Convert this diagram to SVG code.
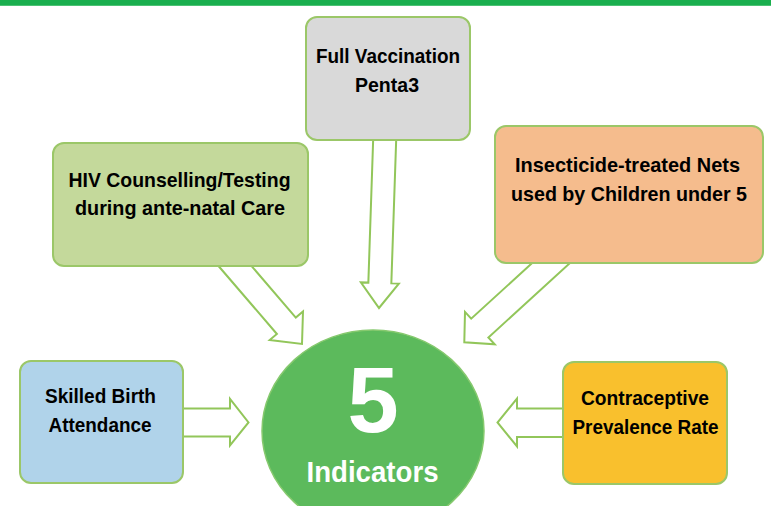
<svg xmlns="http://www.w3.org/2000/svg" width="771" height="506" viewBox="0 0 771 506">
  <style>
    .box { stroke: #9BC768; stroke-width: 2; }
    .arrow { fill: #FFFFFF; stroke: #92C65A; stroke-width: 2; stroke-linejoin: miter; }
    .lbl { font-family: "Liberation Sans", Arial, sans-serif; font-weight: bold; font-size: 21px; fill: #000000; text-anchor: middle; }
    .big { font-family: "Liberation Sans", Arial, sans-serif; font-weight: bold; fill: #FFFFFF; text-anchor: middle; }
  </style>
  <rect x="0" y="0" width="771" height="506" fill="#FFFFFF"/>
  <rect x="0" y="0" width="771" height="5.5" fill="#1AAF4E"/>
  <rect x="0" y="5" width="771" height="1" fill="#4CC274"/>

  <g id="connectors">
    <polygon class="arrow" points="373.5,129.6 368.35,282.6 360.85,282.4 379,308 398.83,283.6 391.33,283.4 396.5,130.4"/>
    <polygon class="arrow" points="212.5,259 276.9,334 269.7,340.1 302,344 303,311.5 295.8,317.6 231.5,242.6"/>
    <polygon class="arrow" points="557.2,240.1 471.2,318.7 465,311.9 464.3,342.3 494.7,344.3 488.4,337.5 574.4,258.9"/>
    <polygon class="arrow" points="175,408.5 230,408.5 230,399 248.5,422.5 230,445.5 230,436.5 175,436.5"/>
    <polygon class="arrow" points="571,408.5 517,408.5 517,398.5 497.5,422.5 517,446.5 517,437 571,437"/>
  </g>

  <g id="node-penta3">
    <rect class="box" x="306" y="17" width="164" height="123" rx="11" fill="#D9D9D9"/>
    <text class="lbl" x="388" y="62.5" textLength="144" lengthAdjust="spacingAndGlyphs">Full Vaccination</text>
    <text class="lbl" x="387" y="91.5" textLength="64" lengthAdjust="spacingAndGlyphs">Penta3</text>
  </g>

  <g id="node-hiv">
    <rect class="box" x="53" y="143" width="255" height="123" rx="11" fill="#C4D99B"/>
    <text class="lbl" x="179.5" y="186.5" textLength="222" lengthAdjust="spacingAndGlyphs">HIV Counselling/Testing</text>
    <text class="lbl" x="180" y="215" textLength="210" lengthAdjust="spacingAndGlyphs">during ante-natal Care</text>
  </g>

  <g id="node-itn">
    <rect class="box" x="495" y="126" width="268" height="137" rx="11" fill="#F5BC8D"/>
    <text class="lbl" x="627.5" y="171.5" textLength="225" lengthAdjust="spacingAndGlyphs">Insecticide-treated Nets</text>
    <text class="lbl" x="629" y="200.5" textLength="236" lengthAdjust="spacingAndGlyphs">used by Children under 5</text>
  </g>

  <g id="node-sba">
    <rect class="box" x="20" y="361" width="163" height="122" rx="11" fill="#B0D3EA"/>
    <text class="lbl" x="100.5" y="403" textLength="111" lengthAdjust="spacingAndGlyphs">Skilled Birth</text>
    <text class="lbl" x="100" y="431.5" textLength="103" lengthAdjust="spacingAndGlyphs">Attendance</text>
  </g>

  <g id="node-cpr">
    <rect class="box" x="563" y="362" width="164" height="122" rx="11" fill="#F9C02D"/>
    <text class="lbl" x="645" y="405" textLength="128" lengthAdjust="spacingAndGlyphs">Contraceptive</text>
    <text class="lbl" x="645.5" y="433.5" textLength="146" lengthAdjust="spacingAndGlyphs">Prevalence Rate</text>
  </g>

  <g id="node-center">
    <ellipse cx="373" cy="431" rx="111" ry="101" fill="#5CBA5C" stroke="#86C96E" stroke-width="1.5"/>
    <text class="big" x="373" y="432" font-size="92">5</text>
    <text class="big" x="372.5" y="482" font-size="29" textLength="132" lengthAdjust="spacingAndGlyphs">Indicators</text>
  </g>
</svg>
